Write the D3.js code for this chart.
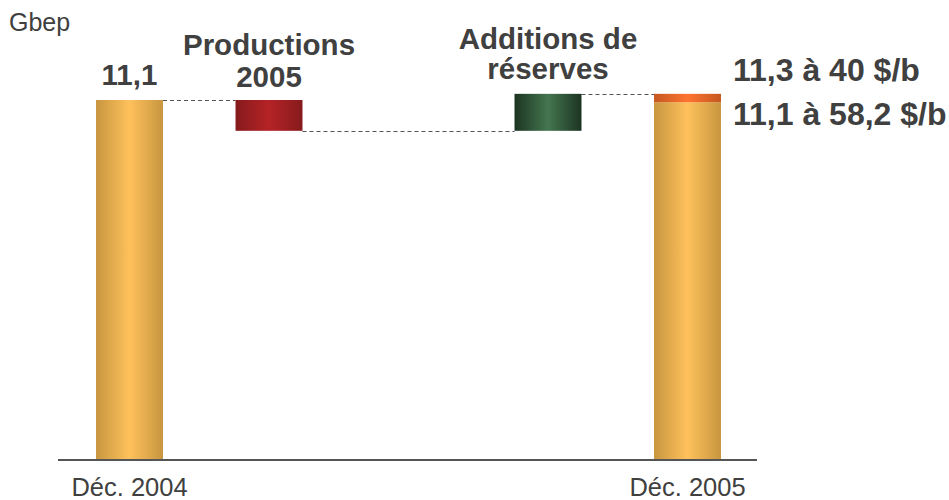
<!DOCTYPE html>
<html>
<head>
<meta charset="utf-8">
<script src="https://cdn.jsdelivr.net/npm/d3@7"></script>
<style>
  html, body { margin: 0; padding: 0; background: #fff; }
  svg { display: block; font-family: "Liberation Sans", Arial, sans-serif; }
</style>
</head>
<body>
<svg id="chart" width="949" height="500"></svg>
<script>
// ---- data ----
const categories = ["Déc. 2004", "Productions 2005", "", "Additions de réserves", "Déc. 2005"];
const startValue = 11.1;          // Gbep, Dec 2004
const productionDelta = -0.95;    // Productions 2005
const additionsDelta = 1.14;      // Additions de réserves
const endBase = 11.03;            // Dec 2005 at 58,2 $/b
const endTotal = 11.29;           // Dec 2005 at 40 $/b
const axisLabels = ["Déc. 2004", "Déc. 2005"];
const unitLabel = "Gbep";
const topLabels = [
  { cat: "Déc. 2004", lines: ["11,1"] },
  { cat: "Productions 2005", lines: ["Productions", "2005"] },
  { cat: "Additions de réserves", lines: ["Additions de", "réserves"] }
];
const endLabels = ["11,3 à 40 $/b", "11,1 à 58,2 $/b"];

// ---- scales ----
const svg = d3.select("#chart");
const x = d3.scaleBand().domain(categories).range([59.75, 757.25]).paddingInner(0.52).paddingOuter(0.26);
const y = d3.scaleLinear().domain([0, 11.1]).range([460, 100]);

const defs = svg.append("defs");
function grad(id, edge, mid) {
  const g = defs.append("linearGradient").attr("id", id).attr("x1", "0%").attr("x2", "100%").attr("y1", "0%").attr("y2", "0%");
  g.append("stop").attr("offset", "0%").attr("stop-color", edge);
  g.append("stop").attr("offset", "50%").attr("stop-color", mid);
  g.append("stop").attr("offset", "100%").attr("stop-color", edge);
}
grad("gYellow", "#C8963F", "#FEC15C");
grad("gRed", "#861A1C", "#B52326");
grad("gGreen", "#1C3422", "#447650");
grad("gOrange", "#C4581F", "#FF7330");

const afterProd = startValue + productionDelta;
const afterAdd = afterProd + additionsDelta;

const bars = [
  { cat: "Déc. 2004", y0: 0, y1: startValue, fill: "url(#gYellow)" },
  { cat: "Productions 2005", y0: afterProd, y1: startValue, fill: "url(#gRed)" },
  { cat: "Additions de réserves", y0: afterProd, y1: afterAdd, fill: "url(#gGreen)" },
  { cat: "Déc. 2005", y0: 0, y1: endBase, fill: "url(#gYellow)" },
  { cat: "Déc. 2005", y0: endBase, y1: endTotal, fill: "url(#gOrange)" }
];

// connectors
const connectors = [
  { from: "Déc. 2004", to: "Productions 2005", v: startValue },
  { from: "Productions 2005", to: "Additions de réserves", v: afterProd },
  { from: "Additions de réserves", to: "Déc. 2005", v: afterAdd }
];
svg.append("g").selectAll("line").data(connectors).join("line")
  .attr("x1", d => x(d.from) + x.bandwidth())
  .attr("x2", d => x(d.to))
  .attr("y1", d => Math.round(y(d.v)) + 0.5)
  .attr("y2", d => Math.round(y(d.v)) + 0.5)
  .attr("stroke", "#555")
  .attr("stroke-width", 1)
  .attr("stroke-dasharray", "4,3");

svg.append("g").selectAll("rect").data(bars).join("rect")
  .attr("x", d => x(d.cat))
  .attr("width", x.bandwidth())
  .attr("y", d => y(d.y1))
  .attr("height", d => y(d.y0) - y(d.y1))
  .attr("fill", d => d.fill);

// baseline axis
const axis = d3.axisBottom(x).tickSize(0).tickFormat(() => "");
const ax = svg.append("g").attr("transform", "translate(0,460)").call(axis);
ax.select(".domain").attr("stroke", "#555").attr("stroke-width", 2).attr("d", "M58,0H757");

// axis labels
svg.append("g").selectAll("text").data(axisLabels).join("text")
  .attr("x", d => x(d) + x.bandwidth() / 2)
  .attr("y", 496)
  .attr("text-anchor", "middle")
  .attr("font-size", 25.5)
  .attr("fill", "#404040")
  .text(d => d);

// unit label
svg.append("text")
  .attr("x", 9)
  .attr("y", 31)
  .attr("font-size", 25)
  .attr("fill", "#404040")
  .text(unitLabel);

// top labels
const lineBase = { "Déc. 2004": [85], "Productions 2005": [55, 87], "Additions de réserves": [49, 79] };
topLabels.forEach(t => {
  t.lines.forEach((ln, i) => {
    svg.append("text")
      .attr("x", x(t.cat) + x.bandwidth() / 2)
      .attr("y", lineBase[t.cat][i])
      .attr("text-anchor", "middle")
      .attr("font-size", 29.5)
      .attr("font-weight", "bold")
      .attr("fill", "#404040")
      .text(ln);
  });
});

// end labels
endLabels.forEach((ln, i) => {
  svg.append("text")
    .attr("x", 733)
    .attr("y", [81, 125][i])
    .attr("font-size", 32)
    .attr("font-weight", "bold")
    .attr("fill", "#404040")
    .text(ln);
});
</script>
</body>
</html>
